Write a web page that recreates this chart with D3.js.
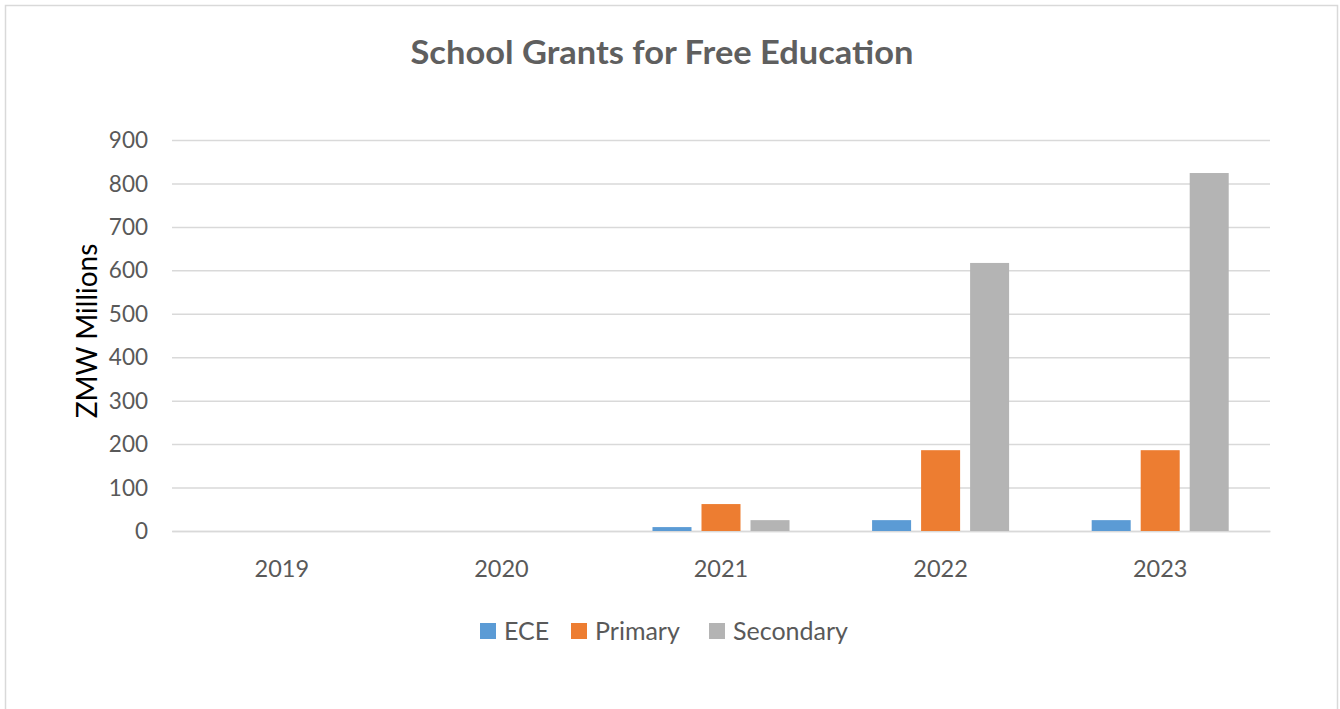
<!DOCTYPE html>
<html>
<head>
<meta charset="utf-8">
<script src="https://cdn.jsdelivr.net/npm/d3@7"></script>
<style>
  html, body { margin: 0; padding: 0; background: #fff; }
  svg { display: block; }
</style>
</head>
<body>
<svg id="chart" width="1340" height="709"></svg>
<script>
// School grants for free education, ZMW millions
const categories = ["2019", "2020", "2021", "2022", "2023"];
const seriesNames = ["ECE", "Primary", "Secondary"];
const eceValues = [0, 0, 9, 25, 25];
const primaryValues = [0, 0, 62, 186, 186];
const secondaryValues = [0, 0, 25, 617, 824];
const yTicks = [0, 100, 200, 300, 400, 500, 600, 700, 800, 900];
const seriesColors = ["#5b9bd5", "#ed7d31", "#b4b4b4"];

const seriesValues = [eceValues, primaryValues, secondaryValues];
const rows = categories.map((c, i) => ({
  category: c,
  values: seriesNames.map((s, j) => ({ series: s, value: seriesValues[j][i] }))
}));

const svg = d3.select("#chart");
const plot = { left: 172, right: 1270, top: 140, bottom: 531 };
const font = "Lato, 'Open Sans', sans-serif";

// chart frame
svg.append("rect")
  .attr("x", 5.5).attr("y", 5.5)
  .attr("width", 1332).attr("height", 720)
  .attr("fill", "#fff")
  .attr("stroke", "#d9d9d9").attr("stroke-width", 1.5);

const x0 = d3.scaleBand()
  .domain(categories)
  .range([plot.left, plot.right])
  .paddingInner(0.376)
  .paddingOuter(0.188);

const x1 = d3.scaleBand()
  .domain(seriesNames)
  .range([0, x0.bandwidth()])
  .paddingInner(0.204);

const y = d3.scaleLinear()
  .domain([0, 900])
  .range([plot.bottom, plot.top]);

const color = d3.scaleOrdinal().domain(seriesNames).range(seriesColors);

// horizontal gridlines and value labels
const yAxis = d3.axisLeft(y)
  .tickValues(yTicks)
  .tickSize(-(plot.right - plot.left))
  .tickPadding(24)
  .tickFormat(d3.format("d"));

const gy = svg.append("g")
  .attr("transform", `translate(${plot.left},0)`)
  .call(yAxis);
gy.select(".domain").remove();
gy.selectAll(".tick line")
  .attr("stroke", "#d9d9d9")
  .attr("stroke-width", 1.5);
gy.selectAll(".tick text")
  .attr("fill", "#595959")
  .attr("font-family", font)
  .attr("font-size", 22.5)
  .attr("dy", "0.34em");

// category labels
const xAxis = d3.axisBottom(x0).tickSize(0).tickPadding(29);
const gx = svg.append("g")
  .attr("transform", `translate(0,${plot.bottom})`)
  .call(xAxis);
gx.select(".domain")
  .attr("stroke", "#d9d9d9")
  .attr("stroke-width", 1.5);
gx.selectAll(".tick text")
  .attr("fill", "#595959")
  .attr("font-family", font)
  .attr("font-size", 23.5);

// grouped bars
const groups = svg.append("g")
  .selectAll("g")
  .data(rows)
  .join("g")
  .attr("transform", d => `translate(${x0(d.category)},0)`);

groups.selectAll("rect")
  .data(d => d.values)
  .join("rect")
  .attr("x", d => x1(d.series))
  .attr("width", x1.bandwidth())
  .attr("y", d => y(d.value))
  .attr("height", d => y(0) - y(d.value))
  .attr("fill", d => color(d.series));

// title
svg.append("text")
  .attr("x", 662).attr("y", 64)
  .attr("text-anchor", "middle")
  .attr("fill", "#5f5f5f")
  .attr("font-family", font)
  .attr("font-weight", "bold")
  .attr("font-size", 33)
  .attr("textLength", 503)
  .attr("lengthAdjust", "spacingAndGlyphs")
  .text("School Grants for Free Education");

// y-axis title
svg.append("text")
  .attr("transform", "translate(97,331) rotate(-90)")
  .attr("text-anchor", "middle")
  .attr("fill", "#000")
  .attr("font-family", font)
  .attr("font-size", 28)
  .text("ZMW Millions");

// legend
const legendX = [480, 571, 709];
const legend = svg.append("g")
  .selectAll("g")
  .data(seriesNames)
  .join("g")
  .attr("transform", (d, i) => `translate(${legendX[i]},623)`);
legend.append("rect")
  .attr("width", 16).attr("height", 16)
  .attr("fill", d => color(d));
legend.append("text")
  .attr("x", 24).attr("y", 8)
  .attr("dy", "0.36em")
  .attr("fill", "#595959")
  .attr("font-family", font)
  .attr("font-size", 25)
  .text(d => d);
</script>
</body>
</html>
